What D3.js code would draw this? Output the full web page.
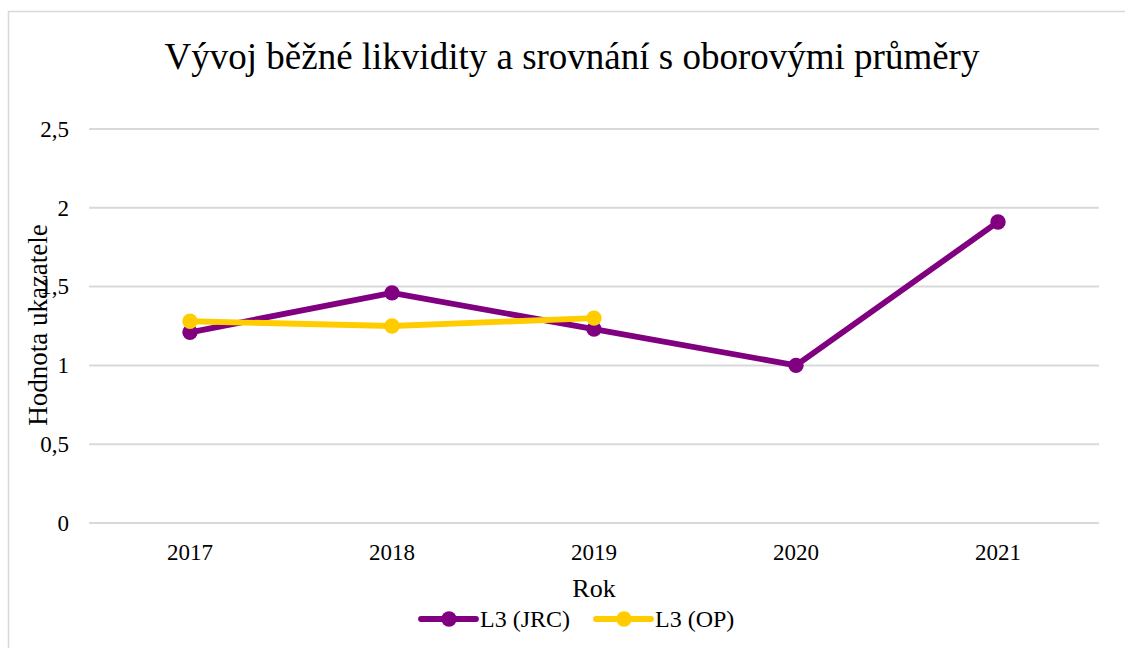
<!DOCTYPE html>
<html>
<head>
<meta charset="utf-8">
<script src="https://cdn.jsdelivr.net/npm/d3@7"></script>
<style>
  html, body { margin: 0; padding: 0; background: #fff; }
  svg { display: block; }
</style>
</head>
<body>
<div id="chart"></div>
<script>
const years = ['2017', '2018', '2019', '2020', '2021'];
const jrcValues = [1.21, 1.46, 1.23, 1.00, 1.91];
const opValues = [1.28, 1.25, 1.30, null, null];
const yTicks = [0, 0.5, 1, 1.5, 2, 2.5];

const width = 1125, height = 648;
const margin = { top: 129, right: 26, bottom: 125, left: 89 };
const serif = 'Liberation Serif';

const svg = d3.select('#chart').append('svg')
    .attr('width', width)
    .attr('height', height)
    .attr('font-family', serif);

// chart frame (runs off the right and bottom edges)
svg.append('rect')
    .attr('x', 8.5).attr('y', 11.5)
    .attr('width', 1140).attr('height', 660)
    .style('fill', 'none')
    .style('stroke', '#d9d9d9')
    .style('stroke-width', 1.5);

const x = d3.scaleBand()
    .domain(years)
    .range([margin.left, width - margin.right]);

const y = d3.scaleLinear()
    .domain([0, 2.5])
    .range([height - margin.bottom, margin.top]);

// gridlines
svg.append('g')
    .selectAll('line')
    .data(yTicks)
    .enter().append('line')
      .attr('x1', margin.left)
      .attr('x2', width - margin.right)
      .attr('y1', d => y(d))
      .attr('y2', d => y(d))
      .style('stroke', '#d9d9d9')
      .style('stroke-width', 2);

const fmt = d => String(d).replace('.', ',');

const yAxis = svg.append('g')
    .attr('transform', `translate(${margin.left - 20},0)`)
    .call(d3.axisLeft(y).tickValues(yTicks).tickFormat(fmt).tickSize(0));
yAxis.attr('font-family', serif);
yAxis.select('.domain').remove();
yAxis.selectAll('text')
    .attr('x', 0)
    .attr('fill', '#000')
    .attr('font-size', 23)
    .attr('dy', '0.32em');

const xAxis = svg.append('g')
    .attr('transform', `translate(0,${height - margin.bottom})`)
    .call(d3.axisBottom(x).tickSize(0));
xAxis.attr('font-family', serif);
xAxis.select('.domain').remove();
xAxis.selectAll('text')
    .attr('y', 21)
    .attr('fill', '#000')
    .attr('font-size', 23);

// titles
svg.append('text')
    .attr('x', 572).attr('y', 69)
    .attr('text-anchor', 'middle')
    .attr('font-size', 37)
    .text('Vývoj běžné likvidity a srovnání s oborovými průměry');

svg.append('text')
    .attr('transform', `translate(47,${(y(0) + y(2.5)) / 2 - 1}) rotate(-90)`)
    .attr('text-anchor', 'middle')
    .attr('font-size', 27)
    .text('Hodnota ukazatele');

svg.append('text')
    .attr('x', x('2019') + x.bandwidth() / 2)
    .attr('y', 597)
    .attr('text-anchor', 'middle')
    .attr('font-size', 26)
    .text('Rok');

const series = [
  { name: 'L3 (JRC)', values: jrcValues, color: '#800080' },
  { name: 'L3 (OP)', values: opValues, color: '#ffcc00' }
];

const line = d3.line()
    .defined(d => d.v !== null)
    .x(d => x(d.year) + x.bandwidth() / 2)
    .y(d => y(d.v));

series.forEach(s => {
  const pts = years.map((year, i) => ({ year, v: s.values[i] }));
  svg.append('path')
      .datum(pts)
      .attr('d', line)
      .style('fill', 'none')
      .style('stroke', s.color)
      .style('stroke-width', 5.8)
      .style('stroke-linejoin', 'round');
  svg.append('g')
    .selectAll('circle')
    .data(pts.filter(d => d.v !== null))
    .enter().append('circle')
      .attr('cx', d => x(d.year) + x.bandwidth() / 2)
      .attr('cy', d => y(d.v))
      .attr('r', 7.7)
      .style('fill', s.color);
});

// legend
const legendItems = [
  { s: series[0], x: 421 },
  { s: series[1], x: 596 }
];
const legend = svg.append('g').attr('transform', 'translate(0,619)');
legendItems.forEach(item => {
  const g = legend.append('g').attr('transform', `translate(${item.x},0)`);
  g.append('line')
      .attr('x1', 0).attr('x2', 55)
      .style('stroke', item.s.color)
      .style('stroke-width', 5.8)
      .style('stroke-linecap', 'round');
  g.append('circle')
      .attr('cx', 28).attr('r', 7.7)
      .style('fill', item.s.color);
  g.append('text')
      .attr('x', 59).attr('dy', '0.35em')
      .attr('font-size', 24)
      .text(item.s.name);
});
</script>
</body>
</html>
